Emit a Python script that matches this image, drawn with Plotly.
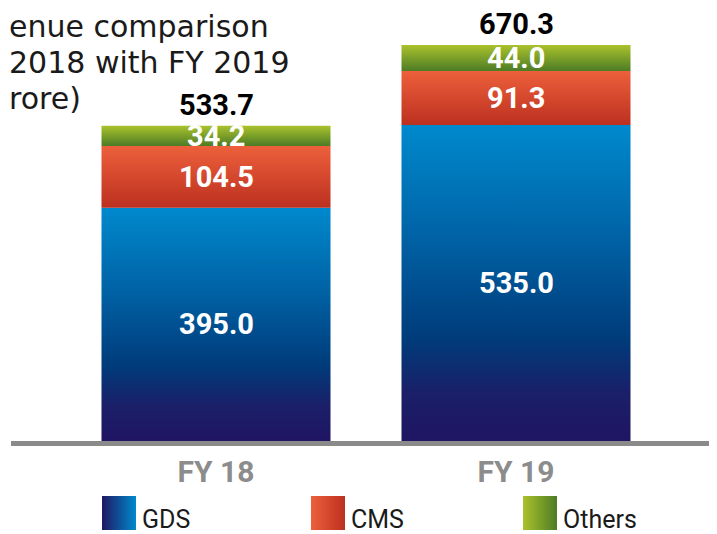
import plotly.graph_objects as go

# ---------------- data ----------------
categories = ["FY 18", "FY 19"]
series_names = ["GDS", "CMS", "Others"]
gds = [395.0, 535.0]
cms = [104.5, 91.3]
others = [34.2, 44.0]
totals = [533.7, 670.3]
title_lines = ["enue comparison", "2018 with FY 2019", "rore)"]

# ---------------- styling ----------------
# the page body adds an 8px margin, so the figure is 8px smaller and all
# pixel positions below are measured from the figure's own corner
OFF = 8
W, H = 717 - OFF, 534 - OFF
LEFT = 11 - OFF          # where the baseline starts
BASE_PX = 441 - OFF      # baseline pixel row
TOP_PX = 45 - OFF        # top of tallest bar
SPACING = 300            # px between bar centres
FIRST_CENTER = 216 - OFF
BAR_W = 229 / SPACING

scales = {
    "GDS": [[0, "#201562"], [0.15, "#1a1f68"], [0.32, "#003b7a"], [0.65, "#0063a6"], [1, "#0089cd"]],
    "CMS": [[0, "#bc3020"], [1, "#ed603b"]],
    "Others": [[0, "#4d7c25"], [1, "#aac22c"]],
}
legend_grad = {  # (left colour, right colour)
    "GDS": ("#1f1862", "#0089cd"),
    "CMS": ("#ed603b", "#bc3020"),
    "Others": ("#aac22c", "#4d7c25"),
}

values = {"GDS": gds, "CMS": cms, "Others": others}
ymax = max(totals) * BASE_PX / (BASE_PX - TOP_PX)

fig = go.Figure()
annotations = []
for i, cat in enumerate(categories):
    base = 0.0
    for name in series_names:
        v = values[name][i]
        x0, x1 = i - BAR_W / 2, i + BAR_W / 2
        fig.add_trace(go.Scatter(
            x=[x0, x1, x1, x0, x0],
            y=[base, base, base + v, base + v, base],
            mode="lines", line=dict(width=0), fill="toself",
            fillgradient=dict(type="vertical", colorscale=scales[name]),
            hoverinfo="skip", showlegend=False, name=name,
        ))
        annotations.append(dict(
            x=i, y=base + v / 2, xref="x", yref="y", text=f"{v:.1f}",
            showarrow=False, font=dict(family="Roboto", size=29, color="white", weight="bold"),
        ))
        base += v
    annotations.append(dict(
        x=i, y=totals[i], xref="x", yref="y", text=f"{totals[i]:.1f}",
        showarrow=False, yanchor="middle", yshift=21,
        font=dict(family="Roboto", size=29, color="black", weight="bold"),
    ))

# custom legend (gradient squares) on a helper axis measured in pixels
legend_x = [119 - OFF, 328 - OFF, 540 - OFF]
legend_y = 513 - OFF
for name, lx in zip(series_names, legend_x):
    left_c, right_c = legend_grad[name]
    fig.add_trace(go.Scatter(
        x=[lx], y=[legend_y], xaxis="x2", yaxis="y2", mode="markers",
        marker=dict(symbol="square", size=34, color=left_c, line=dict(width=0),
                    gradient=dict(type="horizontal", color=right_c)),
        hoverinfo="skip", showlegend=False, name=name,
    ))
    annotations.append(dict(
        x=lx + 21, y=legend_y + 6, xref="x2", yref="y2", text=name, showarrow=False,
        xanchor="left", yanchor="middle",
        font=dict(family="Roboto", size=25, color="#1a1a1a"),
    ))

# title (cut off at the left edge in the reference image)
title_top = [0, 36, 72]
for txt, ty in zip(title_lines, title_top):
    annotations.append(dict(
        x=(0 - LEFT) / (W - LEFT), y=1 - ty / H, xref="paper", yref="paper",
        text=txt, showarrow=False, xanchor="left", yanchor="top", borderpad=0,
        font=dict(family="DejaVu Sans", size=30, color="#1a1a1a"),
    ))

plot_w = W - LEFT
x_left = -(FIRST_CENTER - LEFT) / SPACING
x_right = x_left + plot_w / SPACING

fig.update_layout(
    width=W, height=H,
    margin=dict(l=LEFT, r=0, t=0, b=0),
    paper_bgcolor="white", plot_bgcolor="white",
    showlegend=False,
    annotations=annotations,
    xaxis=dict(range=[x_left, x_right], tickvals=list(range(len(categories))), ticktext=categories,
               showgrid=False, zeroline=False, showline=True, linecolor="#8a8a8a", linewidth=5,
               ticks="", tickfont=dict(family="Roboto", size=30, color="#8c8c8c", weight="bold"),
               anchor="y", fixedrange=True),
    yaxis=dict(range=[0, ymax], domain=[1 - BASE_PX / H, 1], visible=False, fixedrange=True),
    xaxis2=dict(range=[LEFT, W], domain=[0, 1], visible=False, anchor="y2", fixedrange=True),
    yaxis2=dict(range=[H, BASE_PX], domain=[0, 1 - BASE_PX / H], visible=False, anchor="x2", fixedrange=True),
)

fig.write_html("out.html")
